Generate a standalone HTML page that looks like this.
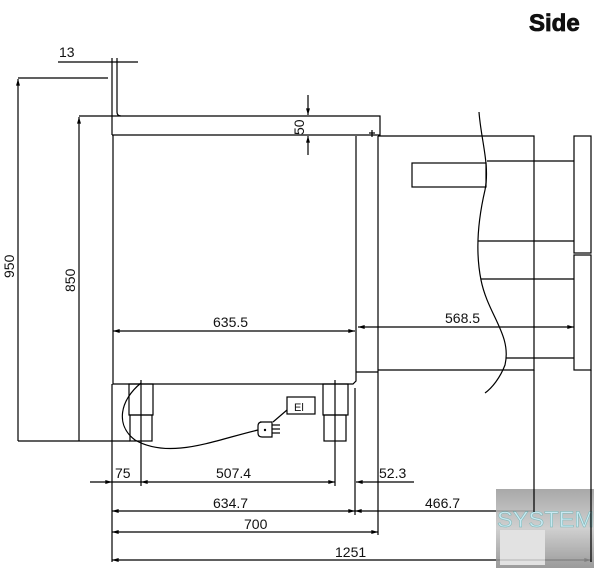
<!DOCTYPE html>
<html><head><meta charset="utf-8"><style>
html,body{margin:0;padding:0;background:#fff;}
svg{display:block;font-family:"Liberation Sans",sans-serif;}
</style></head><body>
<svg width="600" height="574" viewBox="0 0 600 574" xmlns="http://www.w3.org/2000/svg">
<defs>
<marker id="a" viewBox="0 0 10 6" refX="10" refY="3" markerWidth="9" markerHeight="4" orient="auto-start-reverse" markerUnits="userSpaceOnUse"><path d="M0,0L10,3L0,6z" fill="#000"/></marker>
<linearGradient id="g" x1="0" y1="0" x2="0" y2="1"><stop offset="0" stop-color="#9a9a9a"/><stop offset="0.5" stop-color="#c8c8c8"/><stop offset="1" stop-color="#8a8a8a"/></linearGradient>
</defs>
<text x="529" y="31" font-size="24" font-weight="bold" fill="#111" stroke="#111" stroke-width="0.8">Side</text>
<g stroke="#000" stroke-width="1.2" fill="none">
<line x1="58" y1="62" x2="138" y2="62"/>
<line x1="112" y1="58" x2="112" y2="78"/><line x1="117" y1="58" x2="117" y2="78"/>
<path d="M112,78 V135 M117,78 V112 Q117,116 121,116"/>
<path d="M79,116 H380 V135 H112"/>
<line x1="18" y1="78" x2="108" y2="78"/>
<line x1="18" y1="441" x2="18" y2="79" marker-end="url(#a)"/>
<line x1="79" y1="441" x2="79" y2="117" marker-end="url(#a)"/>
<line x1="18" y1="441" x2="130" y2="441"/>
<line x1="308" y1="95" x2="308" y2="115" marker-end="url(#a)"/>
<line x1="308" y1="155" x2="308" y2="136" marker-end="url(#a)"/>
<path d="M113,135 V384 H353 L356,381 V136"/>
<line x1="113" y1="331" x2="355" y2="331" marker-start="url(#a)" marker-end="url(#a)"/>
<path d="M356,372 H378"/>
<line x1="378" y1="136" x2="378" y2="535"/>
<line x1="369" y1="133" x2="375" y2="133"/><line x1="372" y1="130" x2="372" y2="137"/>
<path d="M378,136 H534 V370 H378"/>
<rect x="412" y="163" width="74" height="24"/>
<rect x="574" y="136" width="17" height="117"/>
<rect x="574" y="255" width="17" height="115"/>
<line x1="487" y1="161" x2="574" y2="161"/>
<line x1="478" y1="241" x2="574" y2="241"/>
<line x1="481" y1="279" x2="574" y2="279"/>
<line x1="506" y1="358" x2="574" y2="358"/>
<path d="M479,112 C481,140 490,165 485,190 C478,220 475,250 481,280 C488,315 512,335 505,365 C500,378 492,388 485,393"/>
<line x1="358" y1="327" x2="574" y2="327" marker-start="url(#a)" marker-end="url(#a)"/>
<rect x="129" y="384" width="24" height="31"/><rect x="130" y="415" width="22" height="26"/>
<rect x="323" y="384" width="25" height="31"/><rect x="324" y="415" width="22" height="26"/>
<line x1="141" y1="380" x2="141" y2="486"/>
<line x1="335" y1="380" x2="335" y2="486"/>
<path d="M141,383 C120,400 115,425 135,440 C170,460 215,440 258,430"/>
<rect x="287" y="397" width="28" height="17"/>
<line x1="287" y1="410" x2="273" y2="422"/>
<path d="M260,422 H272 V437 H262 Q258,437 258,433 V426 Q258,422 262,422Z"/>
<line x1="272" y1="425" x2="280" y2="425"/><line x1="272" y1="429" x2="280" y2="429"/><line x1="272" y1="433" x2="280" y2="433"/>
<line x1="112" y1="384" x2="112" y2="562"/>
<line x1="355" y1="388" x2="355" y2="515"/>
<line x1="534" y1="370" x2="534" y2="512"/>
<line x1="591" y1="370" x2="591" y2="562"/>
<line x1="90" y1="482" x2="112" y2="482" marker-end="url(#a)"/>
<line x1="141" y1="482" x2="335" y2="482" marker-start="url(#a)" marker-end="url(#a)"/>
<line x1="376" y1="482" x2="414" y2="482"/>
<line x1="376" y1="482" x2="356" y2="482" marker-end="url(#a)"/>
<line x1="112" y1="482" x2="141" y2="482"/>
<line x1="112" y1="511" x2="355" y2="511" marker-start="url(#a)" marker-end="url(#a)"/>
<line x1="355" y1="511" x2="534" y2="511" marker-start="url(#a)"/>
<line x1="112" y1="532" x2="378" y2="532" marker-start="url(#a)" marker-end="url(#a)"/>
<line x1="112" y1="560" x2="591" y2="560" marker-start="url(#a)" marker-end="url(#a)"/>
</g>
<g font-size="14" fill="#111">
<text x="59" y="57">13</text>
<text x="213" y="327">635.5</text>
<text x="445" y="323">568.5</text>
<text x="115" y="478">75</text>
<text x="216" y="478">507.4</text>
<text x="379" y="478">52.3</text>
<text x="213" y="508">634.7</text>
<text x="425" y="508">466.7</text>
<text x="244" y="529">700</text>
<text x="335" y="557">1251</text>
<text x="294" y="411" font-size="11">El</text>
<text transform="translate(14,278) rotate(-90)">950</text>
<text transform="translate(75,292) rotate(-90)">850</text>
<text transform="translate(304,135) rotate(-90)">50</text>
</g>
<circle cx="265" cy="430" r="1.2" fill="#000"/>
<g opacity="0.85">
<rect x="496" y="489" width="98" height="79" fill="url(#g)"/>
<rect x="500" y="530" width="45" height="35" fill="#ddd"/>
<text x="497" y="527" font-size="22" fill="#bfe6f0" stroke="#6aa" stroke-width="0.5" textLength="97" lengthAdjust="spacingAndGlyphs">SYSTEM</text>
</g>
<line x1="534" y1="489" x2="534" y2="512" stroke="#000" stroke-width="1.2"/>
<line x1="591" y1="489" x2="591" y2="562" stroke="#000" stroke-width="1.2"/>
</svg>
</body></html>
